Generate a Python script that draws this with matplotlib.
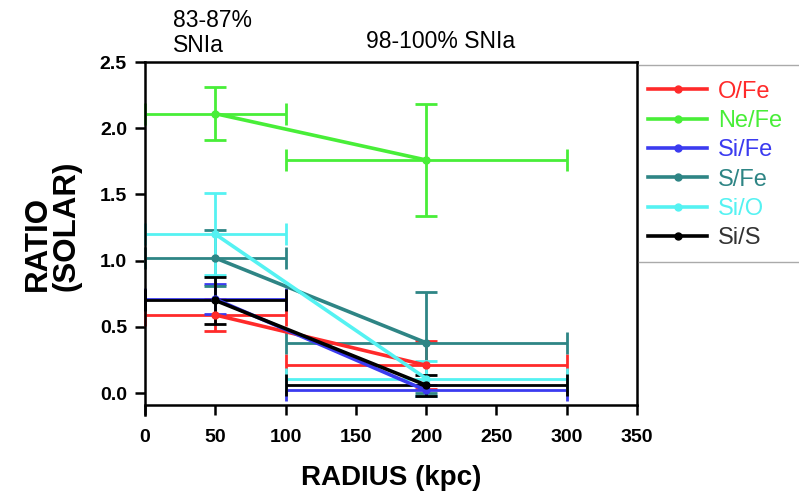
import matplotlib
matplotlib.use("Agg")
import matplotlib.pyplot as plt
from matplotlib.lines import Line2D

plt.rcParams['font.family'] = ['Liberation Sans', 'DejaVu Sans']

# radius bins (kpc) and bin half-widths
radius = [50, 200]
radius_err = [50, 100]

# abundance ratios (solar) with 1-sigma errors
series_names = ["O/Fe", "Ne/Fe", "Si/Fe", "S/Fe", "Si/O", "Si/S"]
o_fe = [0.59, 0.21]
o_fe_err = [0.12, 0.18]
ne_fe = [2.11, 1.76]
ne_fe_err = [0.20, 0.42]
si_fe = [0.71, 0.02]
si_fe_err = [0.11, 0.04]
s_fe = [1.02, 0.38]
s_fe_err = [0.21, 0.38]
si_o = [1.20, 0.11]
si_o_err = [0.31, 0.13]
si_s = [0.70, 0.06]
si_s_err = [0.18, 0.08]

colors = ["#ff2a2a", "#48ee38", "#3b3bf0", "#2e8585", "#55f2f2", "#000000"]
text_colors = ["#ff2a2a", "#48ee38", "#3b3bf0", "#2e8585", "#55f2f2", "#333333"]

values = [o_fe, ne_fe, si_fe, s_fe, si_o, si_s]
errors = [o_fe_err, ne_fe_err, si_fe_err, s_fe_err, si_o_err, si_s_err]

fig = plt.figure(figsize=(7.99, 4.94), dpi=100)
ax = fig.add_axes([145/799, 1 - 405/494, 492/799, 343/494])

for vals, errs, c in zip(values, errors, colors):
    ax.errorbar(radius, vals, yerr=errs, xerr=radius_err, color=c,
                lw=2.6, elinewidth=2.0, capsize=8, capthick=2.0,
                marker='o', ms=5, clip_on=False)

ax.set_xlim(0, 350)
ax.set_ylim(-0.09, 2.5)
ax.set_xticks(range(0, 351, 50))
ax.set_yticks([0.0, 0.5, 1.0, 1.5, 2.0, 2.5])
ax.set_yticklabels(["0.0", "0.5", "1.0", "1.5", "2.0", "2.5"])
ax.tick_params(direction='out', length=7, width=1.8, labelsize=14, pad=6)
ax.tick_params(axis='x', pad=10)
for lab in ax.get_xticklabels() + ax.get_yticklabels():
    lab.set_fontweight('bold')
for s in ax.spines.values():
    s.set_linewidth(1.8)
ax.spines['left'].set_bounds(-0.165, 2.5)

ax.set_xlabel("RADIUS (kpc)", fontsize=20, fontweight='bold', labelpad=14)
fig.text(52/799, 1 - 291/494, "RATIO\n(SOLAR)", rotation=90, ha='center', va='bottom',
         fontsize=22.5, fontweight='bold', multialignment='left', linespacing=0.95)

fig.text(173/799, 1 - 33/494, "83-87%\nSNIa", ha='left', va='center', fontsize=16.5,
         linespacing=1.1)
fig.text(441/799, 1 - 41/494, "98-100% SNIa", ha='center', va='center', fontsize=16.5)

# legend box sitting against the right spine
handles = [Line2D([], [], color=c, lw=2.6, marker='o', ms=5) for c in colors]
leg = fig.legend(handles, series_names, loc='center left',
                 bbox_to_anchor=(648/799, 1 - 165/494), frameon=False, borderpad=0,
                 borderaxespad=0, fontsize=17, handlelength=2.5, handletextpad=0.45,
                 labelspacing=0.31)
for t, c in zip(leg.get_texts(), text_colors):
    t.set_color(c)
fig.add_artist(Line2D([639/799, 1.0], [1 - 65/494, 1 - 65/494], color='#aaaaaa', lw=1))
fig.add_artist(Line2D([639/799, 1.0], [1 - 262/494, 1 - 262/494], color='#aaaaaa', lw=1))

fig.savefig("out.png", dpi=100)
